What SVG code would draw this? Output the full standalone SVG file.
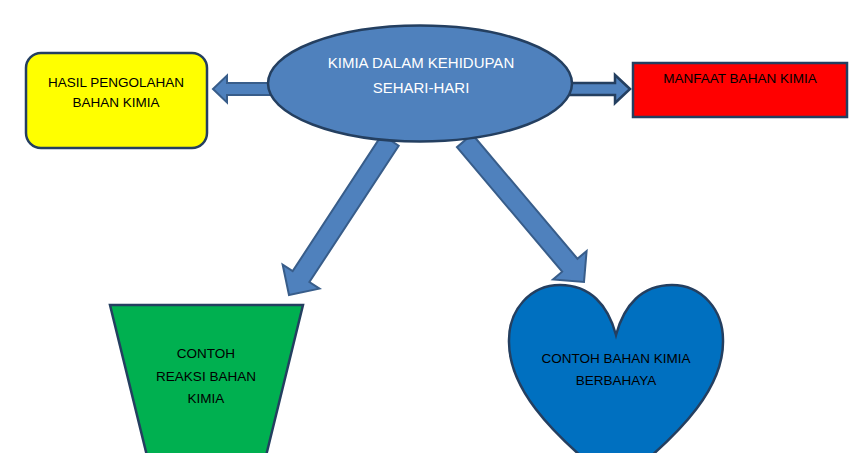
<svg xmlns="http://www.w3.org/2000/svg" width="863" height="453" viewBox="0 0 863 453">
<style>
.arrow{fill:#4F81BD;stroke:#385D8A;stroke-width:2;stroke-linejoin:miter}
.node{stroke:#243F60;stroke-width:2.5}
text{font-family:"Liberation Sans",Arial,sans-serif;font-size:13.5px;text-anchor:middle;fill:#000}
</style>
<rect width="863" height="453" fill="#fff"/>
<g id="connectors">
<polygon class="arrow" transform="translate(213,89) rotate(180)" points="0,0 -14,-13.5 -14,-6 -65,-6 -65,6 -14,6 -14,13.5"/>
<polygon class="arrow" style="stroke:#243F60;stroke-width:2.5" transform="translate(630,89)" points="0,0 -15,-14 -15,-6 -68,-6 -68,6 -15,6 -15,14"/>
<polygon class="arrow" transform="translate(289,295) rotate(123.2)" points="0,0 -22,-22 -22,-10 -185,-10 -185,10 -22,10 -22,22"/>
<polygon class="arrow" transform="translate(584,282) rotate(49.8)" points="0,0 -22,-22 -22,-10 -185,-10 -185,10 -22,10 -22,22"/>
</g>
<g id="center">
<ellipse class="node" cx="420" cy="83.5" rx="152" ry="58" fill="#4F81BD"/>
<text x="421" y="68" style="fill:#fff;font-size:15px">KIMIA DALAM KEHIDUPAN</text>
<text x="421" y="93" style="fill:#fff;font-size:15px">SEHARI-HARI</text>
</g>
<g id="hasil">
<rect class="node" x="26" y="53" width="181" height="95" rx="15" fill="#FFFF00"/>
<text x="116" y="87">HASIL PENGOLAHAN</text>
<text x="116" y="107">BAHAN KIMIA</text>
</g>
<g id="manfaat">
<rect class="node" x="633" y="63" width="214" height="54" fill="#FF0000"/>
<text x="740" y="83">MANFAAT BAHAN KIMIA</text>
</g>
<g id="reaksi">
<polygon class="node" points="110,305 303,305 265,460 148,460" fill="#00B050"/>
<text x="206" y="358">CONTOH</text>
<text x="206" y="381">REAKSI BAHAN</text>
<text x="206" y="403">KIMIA</text>
</g>
<g id="berbahaya">
<path class="node" fill="#0070C0" d="M616,335 C608,305 590,285 560,285 C530,285 509,310 509,340 C508,385 545,430 616,485 C687,430 724,385 723,340 C723,310 702,285 672,285 C642,285 624,305 616,335 Z"/>
<text x="616" y="363">CONTOH BAHAN KIMIA</text>
<text x="616" y="385">BERBAHAYA</text>
</g>
</svg>
